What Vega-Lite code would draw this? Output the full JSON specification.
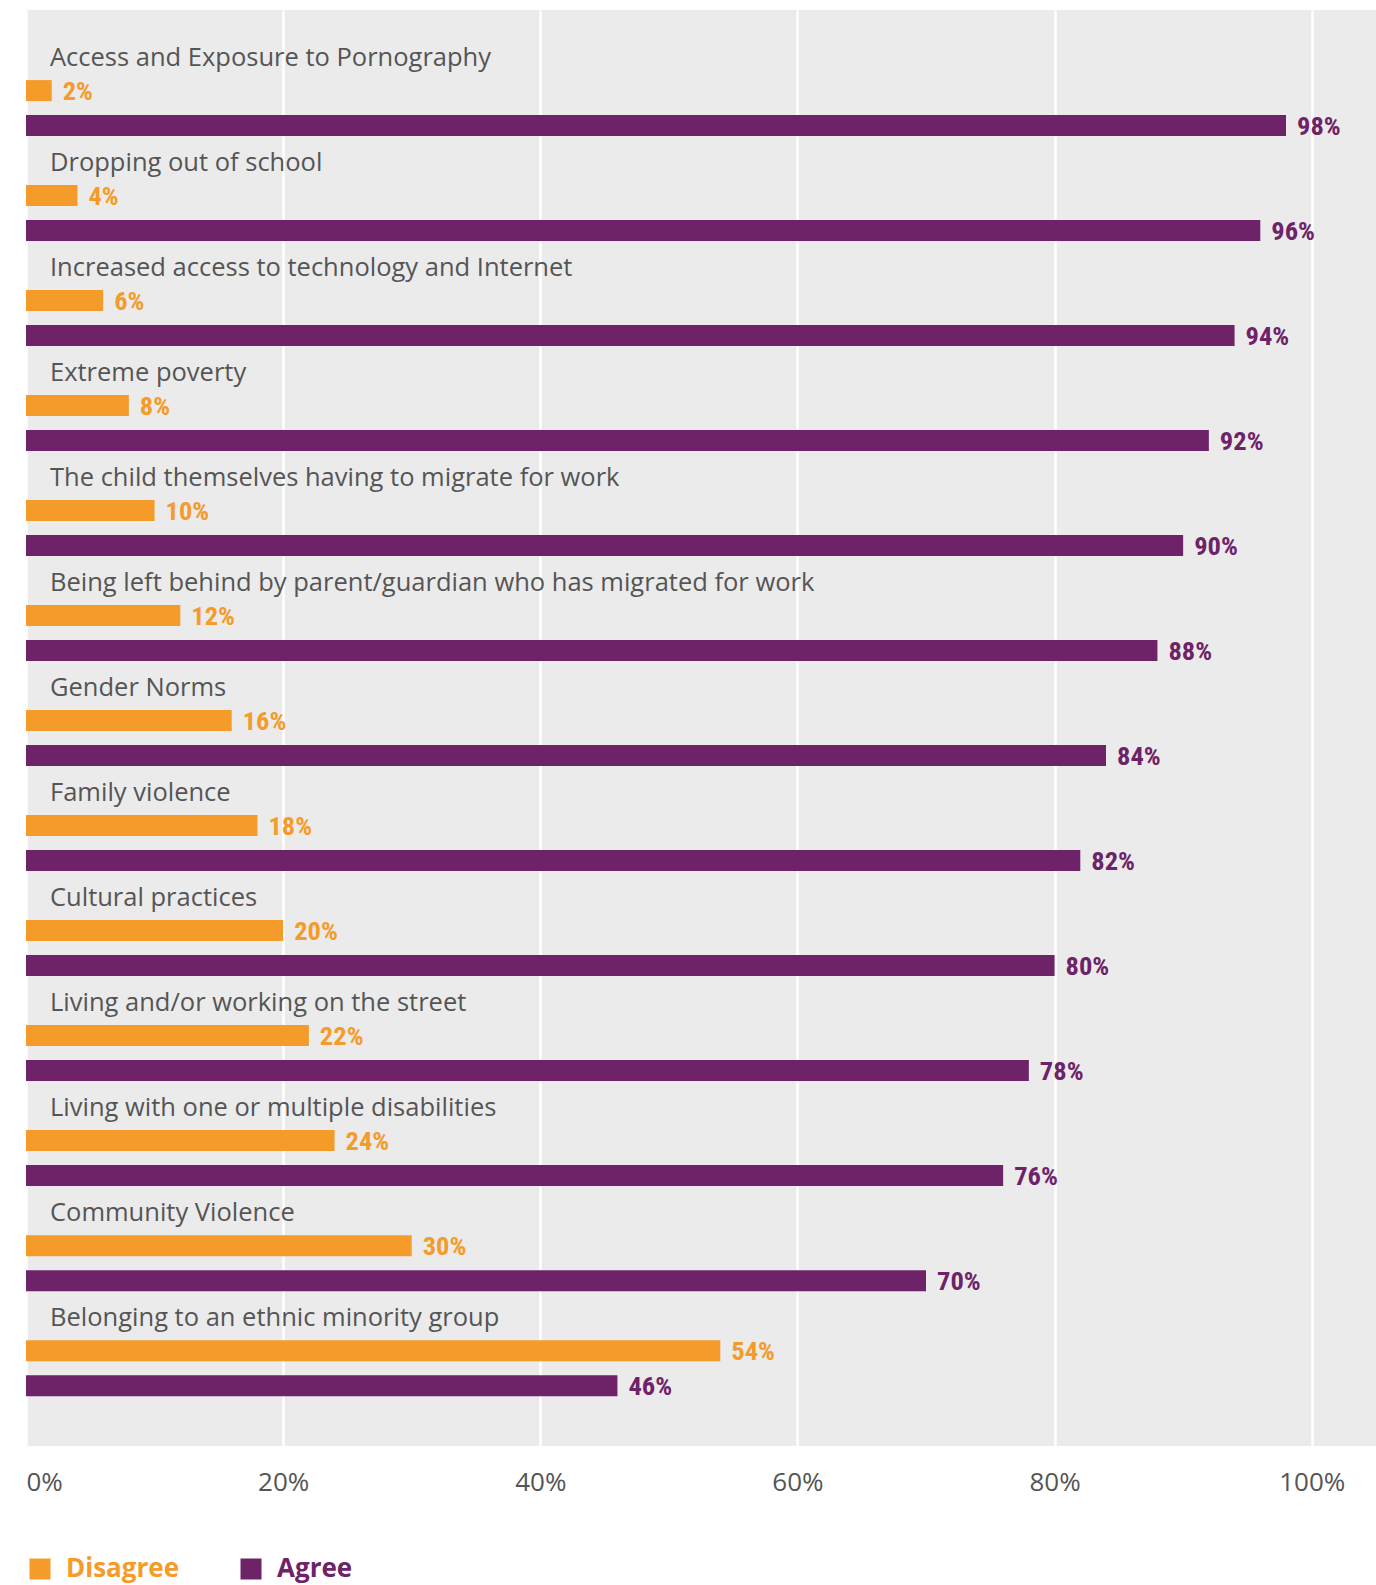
{
  "$schema": "https://vega.github.io/schema/vega-lite/v6.json",
  "autosize": "none",
  "width": 1350,
  "height": 1436,
  "padding": {"left": 26, "top": 10, "right": 0, "bottom": 139},
  "background": "white",
  "config": {
    "view": {"fill": "#EBEBEB", "stroke": null},
    "font": "Open Sans"
  },
  "data": {
    "values": [
      {"category": "Access and Exposure to Pornography", "series": "Disagree", "value": 2},
      {"category": "Access and Exposure to Pornography", "series": "Agree", "value": 98},
      {"category": "Dropping out of school", "series": "Disagree", "value": 4},
      {"category": "Dropping out of school", "series": "Agree", "value": 96},
      {"category": "Increased access to technology and Internet", "series": "Disagree", "value": 6},
      {"category": "Increased access to technology and Internet", "series": "Agree", "value": 94},
      {"category": "Extreme poverty", "series": "Disagree", "value": 8},
      {"category": "Extreme poverty", "series": "Agree", "value": 92},
      {"category": "The child themselves having to migrate for work", "series": "Disagree", "value": 10},
      {"category": "The child themselves having to migrate for work", "series": "Agree", "value": 90},
      {"category": "Being left behind by parent/guardian who has migrated for work", "series": "Disagree", "value": 12},
      {"category": "Being left behind by parent/guardian who has migrated for work", "series": "Agree", "value": 88},
      {"category": "Gender Norms", "series": "Disagree", "value": 16},
      {"category": "Gender Norms", "series": "Agree", "value": 84},
      {"category": "Family violence", "series": "Disagree", "value": 18},
      {"category": "Family violence", "series": "Agree", "value": 82},
      {"category": "Cultural practices", "series": "Disagree", "value": 20},
      {"category": "Cultural practices", "series": "Agree", "value": 80},
      {"category": "Living and/or working on the street", "series": "Disagree", "value": 22},
      {"category": "Living and/or working on the street", "series": "Agree", "value": 78},
      {"category": "Living with one or multiple disabilities", "series": "Disagree", "value": 24},
      {"category": "Living with one or multiple disabilities", "series": "Agree", "value": 76},
      {"category": "Community Violence", "series": "Disagree", "value": 30},
      {"category": "Community Violence", "series": "Agree", "value": 70},
      {"category": "Belonging to an ethnic minority group", "series": "Disagree", "value": 54},
      {"category": "Belonging to an ethnic minority group", "series": "Agree", "value": 46}
    ]
  },
  "encoding": {
    "y": {
      "field": "category",
      "type": "nominal",
      "sort": null,
      "axis": null,
      "scale": {"paddingInner": 0, "paddingOuter": 0.338, "align": 0.396}
    }
  },
  "layer": [
    {
      "mark": {"type": "bar"},
      "encoding": {
        "x": {
          "field": "value",
          "type": "quantitative",
          "scale": {"domain": [0, 105], "nice": false},
          "axis": {
            "values": [0, 20, 40, 60, 80, 100],
            "labelExpr": "datum.value + '%'",
            "title": null,
            "domain": false,
            "ticks": false,
            "grid": true,
            "gridColor": "white",
            "gridWidth": 2.5,
            "labelFont": "Open Sans",
            "labelFontSize": 26,
            "labelColor": "#555555",
            "labelPadding": 23
          }
        },
        "yOffset": {
          "field": "series",
          "type": "nominal",
          "scale": {"domain": ["Label", "Disagree", "Agree"], "paddingInner": 0.4, "paddingOuter": 0.2}
        },
        "color": {
          "field": "series",
          "type": "nominal",
          "scale": {"domain": ["Disagree", "Agree"], "range": ["#F49B2A", "#6E2268"]},
          "legend": {
            "title": null,
            "orient": "none",
            "direction": "horizontal",
            "legendX": 1,
            "legendY": 1546,
            "symbolType": "square",
            "symbolSize": 441,
            "symbolStrokeWidth": 0,
            "symbolOpacity": 1,
            "labelFont": "Open Sans",
            "labelFontSize": 26,
            "labelFontWeight": "bold",
            "labelOffset": 13,
            "columnPadding": 58,
            "encode": {
              "labels": {
                "update": {
                  "fill": {"signal": "datum.value === 'Agree' ? '#6E2268' : '#F49B2A'"}
                }
              }
            }
          }
        }
      }
    },
    {
      "transform": [{"calculate": "datum.value + '%'", "as": "label"}],
      "mark": {
        "type": "text",
        "align": "left",
        "baseline": "middle",
        "dx": 11,
        "dy": 1,
        "font": "Roboto Condensed, Liberation Sans Narrow, DejaVu Sans Condensed, sans-serif",
        "fontSize": 26.5,
        "fontWeight": "bold"
      },
      "encoding": {
        "x": {"field": "value", "type": "quantitative"},
        "yOffset": {"field": "series", "type": "nominal"},
        "text": {"field": "label"},
        "color": {"field": "series", "type": "nominal"}
      }
    },
    {
      "transform": [{"filter": "datum.series === 'Disagree'"}],
      "mark": {
        "type": "text",
        "align": "left",
        "baseline": "middle",
        "dx": 24,
        "dy": 2,
        "font": "Open Sans",
        "fontSize": 25.5,
        "color": "#555555"
      },
      "encoding": {
        "x": {"datum": 0, "type": "quantitative"},
        "yOffset": {"datum": "Label", "type": "nominal"},
        "text": {"field": "category"}
      }
    }
  ]
}
